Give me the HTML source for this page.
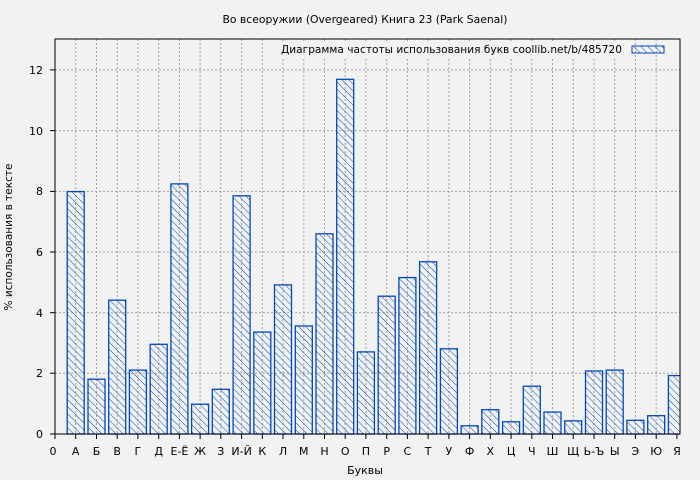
<!DOCTYPE html>
<html><head><meta charset="utf-8"><style>
body{margin:0;background:#f2f2f2;}
svg{display:block;font-family:"DejaVu Sans","Liberation Sans",sans-serif;}
</style></head><body>
<svg width="700" height="480" viewBox="0 0 700 480">
<defs>
<pattern id="h" patternUnits="userSpaceOnUse" width="5" height="5" patternTransform="rotate(-45)">
<line x1="0" y1="0" x2="0" y2="5" stroke="#0047bb" stroke-width="1"/>
</pattern>
<clipPath id="c"><rect x="55" y="39" width="625" height="396"/></clipPath>
</defs>
<rect width="700" height="480" fill="#f2f2f2"/>
<text x="365" y="23" font-size="10.5" text-anchor="middle" fill="#000" textLength="285" lengthAdjust="spacingAndGlyphs">Во всеоружии (Overgeared) Книга 23 (Park Saenal)</text>
<g stroke="#a0a0a0" stroke-dasharray="2,2" stroke-width="1">
<line x1="55" y1="373.2" x2="680" y2="373.2"/><line x1="55" y1="312.7" x2="680" y2="312.7"/>
<line x1="55" y1="252" x2="680" y2="252"/><line x1="55" y1="191.4" x2="680" y2="191.4"/>
<line x1="55" y1="130.6" x2="680" y2="130.6"/><line x1="55" y1="69.9" x2="680" y2="69.9"/>
<line x1="75.7" y1="39" x2="75.7" y2="434"/><line x1="96.5" y1="39" x2="96.5" y2="434"/><line x1="117.2" y1="39" x2="117.2" y2="434"/><line x1="137.9" y1="39" x2="137.9" y2="434"/><line x1="158.7" y1="39" x2="158.7" y2="434"/><line x1="179.4" y1="39" x2="179.4" y2="434"/><line x1="200.1" y1="39" x2="200.1" y2="434"/><line x1="220.8" y1="39" x2="220.8" y2="434"/><line x1="241.6" y1="39" x2="241.6" y2="434"/><line x1="262.3" y1="39" x2="262.3" y2="434"/><line x1="283" y1="39" x2="283" y2="434"/><line x1="303.8" y1="39" x2="303.8" y2="434"/><line x1="324.5" y1="39" x2="324.5" y2="434"/><line x1="345.2" y1="39" x2="345.2" y2="434"/><line x1="365.9" y1="39" x2="365.9" y2="434"/><line x1="386.7" y1="39" x2="386.7" y2="434"/><line x1="407.4" y1="39" x2="407.4" y2="434"/><line x1="428.1" y1="39" x2="428.1" y2="434"/><line x1="448.9" y1="39" x2="448.9" y2="434"/><line x1="469.6" y1="39" x2="469.6" y2="434"/><line x1="490.3" y1="39" x2="490.3" y2="434"/><line x1="511.1" y1="39" x2="511.1" y2="434"/><line x1="531.8" y1="39" x2="531.8" y2="434"/><line x1="552.5" y1="39" x2="552.5" y2="434"/><line x1="573.2" y1="39" x2="573.2" y2="434"/><line x1="594" y1="39" x2="594" y2="434"/><line x1="614.7" y1="39" x2="614.7" y2="434"/><line x1="635.4" y1="39" x2="635.4" y2="434"/><line x1="656.2" y1="39" x2="656.2" y2="434"/>
</g>
<g clip-path="url(#c)" fill="url(#h)" stroke="#0047bb" stroke-width="1.3">
<rect x="67.2" y="191.6" width="17" height="242.4"/>
<rect x="88" y="379.2" width="17" height="54.8"/>
<rect x="108.7" y="300.2" width="17" height="133.8"/>
<rect x="129.4" y="370.1" width="17" height="63.9"/>
<rect x="150.2" y="344.3" width="17" height="89.7"/>
<rect x="170.9" y="183.9" width="17" height="250.1"/>
<rect x="191.6" y="404.2" width="17" height="29.8"/>
<rect x="212.3" y="389.3" width="17" height="44.7"/>
<rect x="233.1" y="195.8" width="17" height="238.2"/>
<rect x="253.8" y="332.1" width="17" height="101.9"/>
<rect x="274.5" y="284.9" width="17" height="149.1"/>
<rect x="295.3" y="326" width="17" height="108"/>
<rect x="316" y="233.8" width="17" height="200.2"/>
<rect x="336.7" y="79.3" width="17" height="354.7"/>
<rect x="357.4" y="351.9" width="17" height="82.1"/>
<rect x="378.2" y="296.2" width="17" height="137.8"/>
<rect x="398.9" y="277.6" width="17" height="156.4"/>
<rect x="419.6" y="261.8" width="17" height="172.2"/>
<rect x="440.4" y="348.8" width="17" height="85.2"/>
<rect x="461.1" y="425.8" width="17" height="8.2"/>
<rect x="481.8" y="409.7" width="17" height="24.3"/>
<rect x="502.6" y="421.8" width="17" height="12.2"/>
<rect x="523.3" y="386.2" width="17" height="47.8"/>
<rect x="544" y="412.1" width="17" height="21.9"/>
<rect x="564.7" y="420.9" width="17" height="13.1"/>
<rect x="585.5" y="371" width="17" height="63"/>
<rect x="606.2" y="370.1" width="17" height="63.9"/>
<rect x="626.9" y="420.3" width="17" height="13.7"/>
<rect x="647.7" y="415.7" width="17" height="18.3"/>
<rect x="668.4" y="375.6" width="17" height="58.4"/>
</g>
<rect x="55" y="39" width="625" height="395" fill="none" stroke="#000" stroke-width="1"/>
<g stroke="#000" stroke-width="1">
<line x1="50" y1="434" x2="55" y2="434"/><line x1="50" y1="373.2" x2="55" y2="373.2"/><line x1="50" y1="312.7" x2="55" y2="312.7"/><line x1="50" y1="252" x2="55" y2="252"/><line x1="50" y1="191.4" x2="55" y2="191.4"/><line x1="50" y1="130.6" x2="55" y2="130.6"/><line x1="50" y1="69.9" x2="55" y2="69.9"/>
<line x1="55" y1="434" x2="55" y2="439"/><line x1="75.7" y1="434" x2="75.7" y2="439"/><line x1="96.5" y1="434" x2="96.5" y2="439"/><line x1="117.2" y1="434" x2="117.2" y2="439"/><line x1="137.9" y1="434" x2="137.9" y2="439"/><line x1="158.7" y1="434" x2="158.7" y2="439"/><line x1="179.4" y1="434" x2="179.4" y2="439"/><line x1="200.1" y1="434" x2="200.1" y2="439"/><line x1="220.8" y1="434" x2="220.8" y2="439"/><line x1="241.6" y1="434" x2="241.6" y2="439"/><line x1="262.3" y1="434" x2="262.3" y2="439"/><line x1="283" y1="434" x2="283" y2="439"/><line x1="303.8" y1="434" x2="303.8" y2="439"/><line x1="324.5" y1="434" x2="324.5" y2="439"/><line x1="345.2" y1="434" x2="345.2" y2="439"/><line x1="365.9" y1="434" x2="365.9" y2="439"/><line x1="386.7" y1="434" x2="386.7" y2="439"/><line x1="407.4" y1="434" x2="407.4" y2="439"/><line x1="428.1" y1="434" x2="428.1" y2="439"/><line x1="448.9" y1="434" x2="448.9" y2="439"/><line x1="469.6" y1="434" x2="469.6" y2="439"/><line x1="490.3" y1="434" x2="490.3" y2="439"/><line x1="511.1" y1="434" x2="511.1" y2="439"/><line x1="531.8" y1="434" x2="531.8" y2="439"/><line x1="552.5" y1="434" x2="552.5" y2="439"/><line x1="573.2" y1="434" x2="573.2" y2="439"/><line x1="594" y1="434" x2="594" y2="439"/><line x1="614.7" y1="434" x2="614.7" y2="439"/><line x1="635.4" y1="434" x2="635.4" y2="439"/><line x1="656.2" y1="434" x2="656.2" y2="439"/><line x1="676.9" y1="434" x2="676.9" y2="439"/>
</g>
<g font-size="11" fill="#000" text-anchor="end">
<text x="43" y="438">0</text><text x="43" y="377">2</text><text x="43" y="317">4</text><text x="43" y="256">6</text><text x="43" y="195">8</text><text x="43" y="135">10</text><text x="43" y="74">12</text>
</g>
<g font-size="11" fill="#000" text-anchor="middle">
<text x="53" y="455">0</text><text x="75.7" y="455">А</text><text x="96.5" y="455">Б</text><text x="117.2" y="455">В</text><text x="137.9" y="455">Г</text><text x="158.7" y="455">Д</text><text x="179.4" y="455">Е-Ё</text><text x="200.1" y="455">Ж</text><text x="220.8" y="455">З</text><text x="241.6" y="455">И-Й</text><text x="262.3" y="455">К</text><text x="283" y="455">Л</text><text x="303.8" y="455">М</text><text x="324.5" y="455">Н</text><text x="345.2" y="455">О</text><text x="365.9" y="455">П</text><text x="386.7" y="455">Р</text><text x="407.4" y="455">С</text><text x="428.1" y="455">Т</text><text x="448.9" y="455">У</text><text x="469.6" y="455">Ф</text><text x="490.3" y="455">Х</text><text x="511.1" y="455">Ц</text><text x="531.8" y="455">Ч</text><text x="552.5" y="455">Ш</text><text x="573.2" y="455">Щ</text><text x="594" y="455">Ь-Ъ</text><text x="614.7" y="455">Ы</text><text x="635.4" y="455">Э</text><text x="656.2" y="455">Ю</text><text x="676.9" y="455">Я</text>
<text x="365" y="474">Буквы</text>
</g>
<text transform="translate(12,237) rotate(-90)" font-size="10.5" text-anchor="middle">% использования в тексте</text>
<rect x="278" y="41" width="346" height="16" fill="#f2f2f2"/>
<text x="281" y="53" font-size="11" textLength="341" lengthAdjust="spacingAndGlyphs">Диаграмма частоты использования букв  coollib.net/b/485720</text>
<rect x="632" y="46" width="32" height="7" fill="url(#h)" stroke="#0047bb" stroke-width="1"/>
</svg>
</body></html>
